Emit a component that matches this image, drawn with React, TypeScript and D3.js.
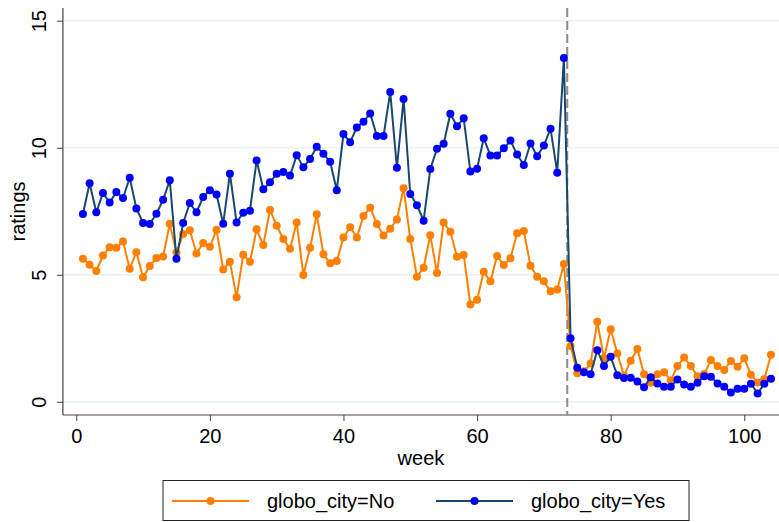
import React, { useEffect, useRef } from "react";
import * as d3 from "d3";

// week index 1..104
const weeks = d3.range(1, 105);

const ratingsNo = [
  5.63, 5.39, 5.15, 5.76, 6.08, 6.06, 6.31, 5.24, 5.89, 4.9, 5.34, 5.66, 5.72, 7.01, 5.88, 6.6, 6.75, 5.84, 6.25, 6.1,
  6.77, 5.21, 5.51, 4.11, 5.79, 5.51, 6.79, 6.17, 7.55, 6.93, 6.41, 6.02, 7.06, 4.99, 6.06, 7.38, 5.81, 5.45, 5.54, 6.47,
  6.87, 6.47, 7.31, 7.64, 7.0, 6.55, 6.81, 7.18, 8.41, 6.41, 4.92, 5.28, 6.56, 5.07, 7.06, 6.69, 5.71, 5.78, 3.83, 4.02,
  5.12, 4.74, 5.74, 5.38, 5.65, 6.63, 6.72, 5.35, 4.92, 4.74, 4.35, 4.42, 5.42, 2.2, 1.12, 1.2, 1.51, 3.15, 1.71, 2.86,
  1.9, 1.02, 1.62, 2.08, 1.08, 0.75, 1.08, 1.16, 0.84, 1.41, 1.74, 1.41, 1.01, 1.09, 1.64, 1.41, 1.25, 1.61, 1.38, 1.71,
  1.06, 0.76, 0.89, 1.85,
];

const ratingsYes = [
  7.39, 8.6, 7.46, 8.22, 7.84, 8.26, 8.02, 8.82, 7.61, 7.04, 7.0, 7.4, 7.95, 8.72, 5.63, 7.04, 7.82, 7.46, 8.06, 8.33,
  8.16, 7.01, 8.98, 7.06, 7.44, 7.52, 9.5, 8.37, 8.64, 8.98, 9.04, 8.91, 9.7, 9.23, 9.56, 10.04, 9.76, 9.45, 8.33, 10.54,
  10.22, 10.8, 11.02, 11.35, 10.46, 10.46, 12.19, 9.21, 11.92, 8.18, 7.74, 7.13, 9.16, 9.96, 10.16, 11.34, 10.85, 11.16,
  9.06, 9.17, 10.37, 9.69, 9.69, 9.98, 10.28, 9.73, 9.32, 10.17, 9.66, 10.09, 10.75, 9.02, 13.53, 2.5, 1.34, 1.16, 1.08,
  2.03, 1.41, 1.77, 1.04, 0.94, 0.95, 0.8, 0.57, 0.97, 0.72, 0.59, 0.59, 0.88, 0.68, 0.59, 0.75, 1.01, 0.99, 0.72, 0.59,
  0.37, 0.51, 0.51, 0.71, 0.33, 0.71, 0.91,
];

const xTicks = [0, 20, 40, 60, 80, 100];
const yTicks = [0, 5, 10, 15];
const cutoffWeek = 73.5;
const legendLabels = ["globo_city=No", "globo_city=Yes"];

const FONT = "Liberation Sans, Arial, sans-serif";

function App() {
  const ref = useRef<SVGSVGElement>(null);

  useEffect(() => {
    const svg = d3.select(ref.current);
    svg.selectAll("*").remove();

    const x = d3.scaleLinear().domain([-2, 105.2]).range([62.9, 779]);
    const y = d3.scaleLinear().domain([-0.52, 15.5]).range([415, 8]);
    const [left, right] = x.range();
    const [bottom, top] = y.range();

    const g = svg.append("g");

    // grid
    g.selectAll("line.grid")
      .data(yTicks)
      .join("line")
      .attr("x1", left)
      .attr("x2", right)
      .attr("y1", (d) => y(d))
      .attr("y2", (d) => y(d))
      .attr("stroke", "#eaf2f3")
      .attr("stroke-width", 1.5);

    // y axis
    const yAxis = g
      .append("g")
      .attr("transform", "translate(" + left + ",0)")
      .call(d3.axisLeft(y).tickValues(yTicks).tickSize(6).tickSizeOuter(0));
    yAxis.select(".domain").remove();
    yAxis.selectAll(".tick line").attr("stroke", "#444");
    yAxis
      .selectAll(".tick text")
      .attr("font-family", FONT)
      .attr("font-size", 20)
      .attr("fill", "#000")
      .attr("x", 0)
      .attr("dy", 0)
      .attr("text-anchor", "middle")
      .attr("transform", "translate(-17,0) rotate(-90)");

    // x axis
    const xAxis = g
      .append("g")
      .attr("transform", "translate(0," + bottom + ")")
      .call(d3.axisBottom(x).tickValues(xTicks).tickSize(6).tickSizeOuter(0));
    xAxis.select(".domain").remove();
    xAxis.selectAll(".tick line").attr("stroke", "#444");
    xAxis
      .selectAll(".tick text")
      .attr("font-family", FONT)
      .attr("font-size", 20)
      .attr("fill", "#000")
      .attr("y", 28)
      .attr("dy", 0);

    // axis lines
    g.append("line")
      .attr("x1", left)
      .attr("x2", left)
      .attr("y1", top)
      .attr("y2", bottom)
      .attr("stroke", "#444")
      .attr("stroke-width", 1.2);
    g.append("line")
      .attr("x1", left)
      .attr("x2", right)
      .attr("y1", bottom)
      .attr("y2", bottom)
      .attr("stroke", "#444")
      .attr("stroke-width", 1.2);

    // titles
    g.append("text")
      .attr("x", (left + right) / 2)
      .attr("y", 465)
      .attr("text-anchor", "middle")
      .attr("font-family", FONT)
      .attr("font-size", 20)
      .text("week");
    g.append("text")
      .attr("transform", "translate(25," + (top + bottom) / 2 + ") rotate(-90)")
      .attr("text-anchor", "middle")
      .attr("font-family", FONT)
      .attr("font-size", 20)
      .text("ratings");

    // cutoff
    g.append("line")
      .attr("x1", x(cutoffWeek))
      .attr("x2", x(cutoffWeek))
      .attr("y1", top)
      .attr("y2", bottom)
      .attr("stroke", "#8c8c8c")
      .attr("stroke-width", 2)
      .attr("stroke-dasharray", "9,4");

    const series = [
      { values: ratingsNo, line: "#ff8000", dot: "#ff8000" },
      { values: ratingsYes, line: "#1a476f", dot: "#0000ff" },
    ];

    const myLine = d3
      .line<number>()
      .x((d, i) => x(weeks[i]))
      .y((d) => y(d));

    series.forEach((s) => {
      g.append("path")
        .attr("d", myLine(s.values))
        .attr("fill", "none")
        .attr("stroke", s.line)
        .attr("stroke-width", 2);
      g.append("g")
        .selectAll("circle")
        .data(s.values)
        .join("circle")
        .attr("cx", (d, i) => x(weeks[i]))
        .attr("cy", (d) => y(d))
        .attr("r", 4)
        .attr("fill", s.dot);
    });

    // legend
    const lg = g.append("g");
    lg.append("rect")
      .attr("x", 163)
      .attr("y", 480.5)
      .attr("width", 526)
      .attr("height", 40)
      .attr("fill", "#fff")
      .attr("stroke", "#222")
      .attr("stroke-width", 1);
    const items = [
      { x0: 172, label: legendLabels[0], s: series[0] },
      { x0: 436, label: legendLabels[1], s: series[1] },
    ];
    items.forEach((it) => {
      lg.append("line")
        .attr("x1", it.x0)
        .attr("x2", it.x0 + 77)
        .attr("y1", 501)
        .attr("y2", 501)
        .attr("stroke", it.s.line)
        .attr("stroke-width", 2);
      lg.append("circle")
        .attr("cx", it.x0 + 38.5)
        .attr("cy", 501)
        .attr("r", 4)
        .attr("fill", it.s.dot);
      lg.append("text")
        .attr("x", it.x0 + 95)
        .attr("y", 508)
        .attr("font-family", FONT)
        .attr("font-size", 20)
        .text(it.label);
    });
  });

  return (
    <div style={{ position: "absolute", left: 0, top: 0, background: "#fff" }}>
      <svg ref={ref} width={779} height={522} style={{ display: "block" }} />
    </div>
  );
}

export default App;
